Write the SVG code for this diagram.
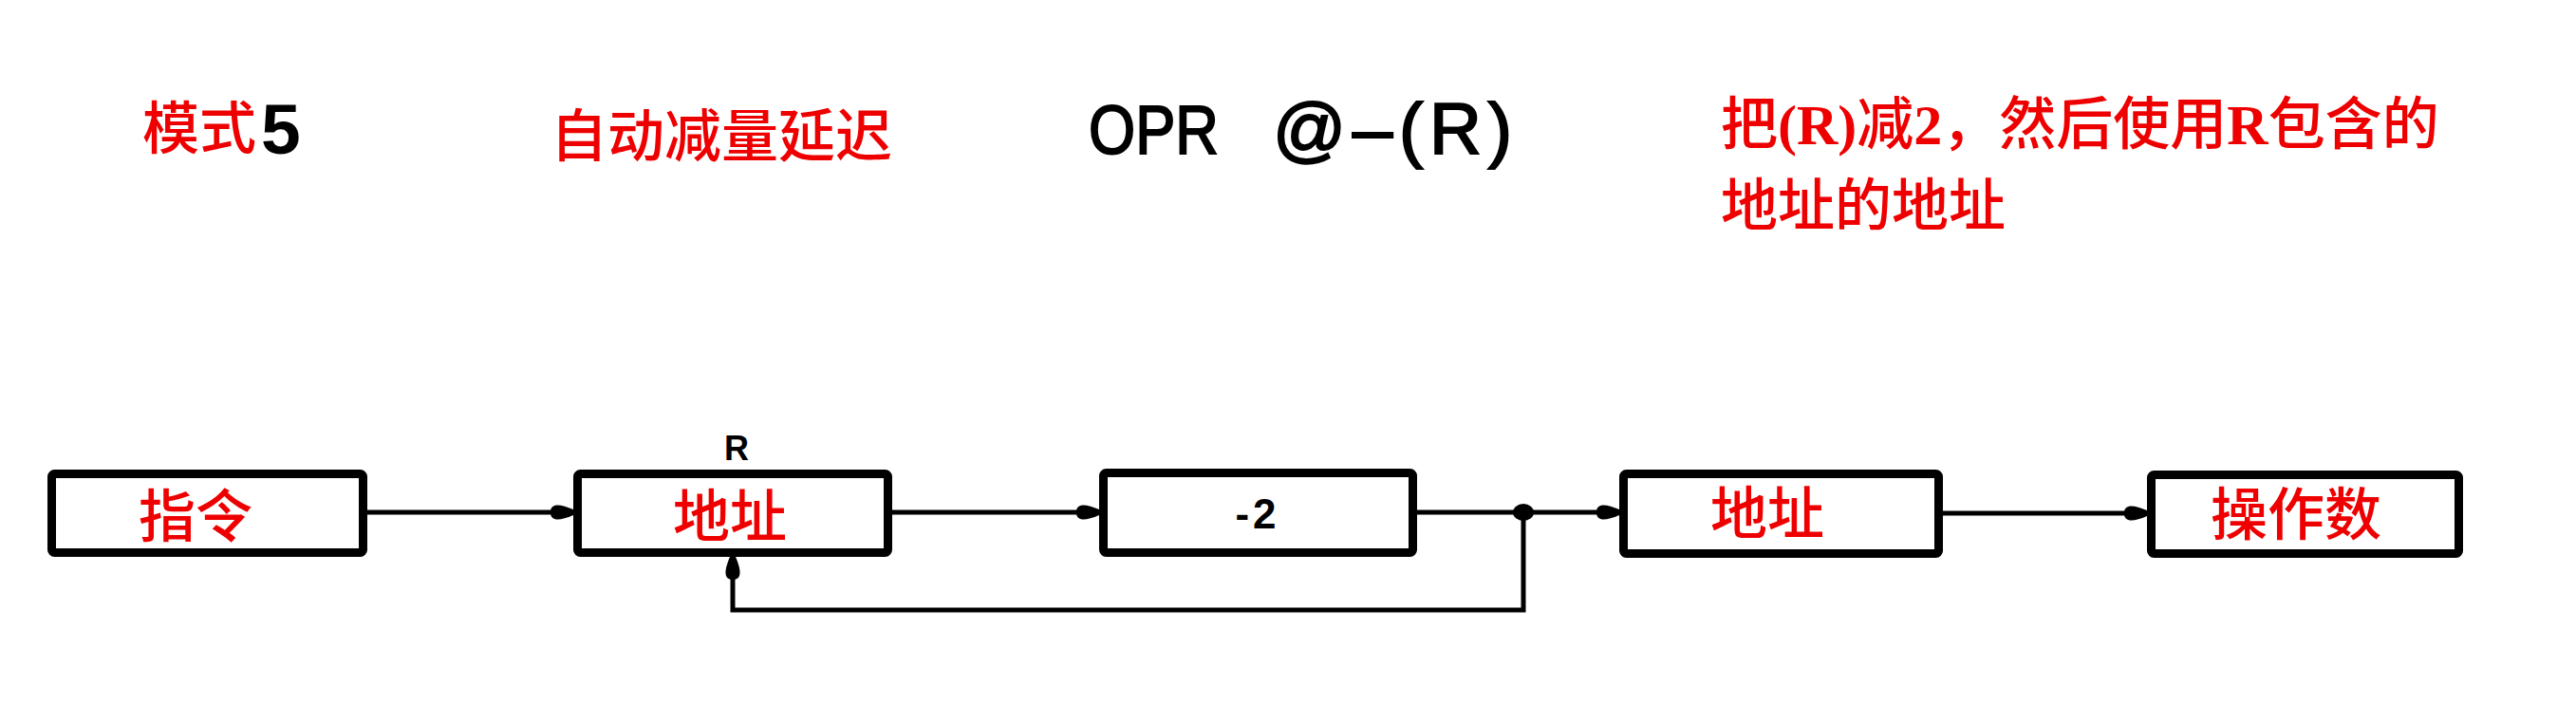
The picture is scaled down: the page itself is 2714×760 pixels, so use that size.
<svg xmlns="http://www.w3.org/2000/svg" width="2714" height="760" viewBox="0 0 2714 760">
  <style>
    .box { fill: #ffffff; stroke: #000000; stroke-width: 9; }
    .wire { fill: none; stroke: #000000; stroke-width: 5; stroke-linejoin: miter; }
    .red { fill: #ee0000; font-family: "Liberation Serif", "Noto Sans CJK SC", serif; font-size: 60px; font-weight: 500; }
    .lat { font-weight: bold; }
    .sans { fill: #000000; font-family: "Liberation Sans", "DejaVu Sans", sans-serif; }
    .med { stroke: #000000; stroke-width: 2; }
  </style>
  <defs>
    <marker id="arrow" markerUnits="userSpaceOnUse" markerWidth="30" markerHeight="26" viewBox="-26 -13 28 26" refX="0" refY="0" orient="auto">
      <path d="M-24,0 C-24,-10 -14,-9 0,-3 L0,3 C-14,9 -24,10 -24,0 Z" fill="#000000"/>
    </marker>
  </defs>
  <rect x="0" y="0" width="2714" height="760" fill="#ffffff"/>

  <g id="title">
    <text class="red" x="150" y="157">模式</text>
    <text class="sans" x="275" y="162" font-size="75" font-weight="bold">5</text>
    <text class="red" x="580" y="165" font-size="58">自动减量延迟</text>
    <text class="sans med" x="1147" y="162" font-size="72" textLength="137" lengthAdjust="spacingAndGlyphs">OPR</text>
    <text class="sans med" x="1341" y="162" font-size="76" textLength="252" lengthAdjust="spacing">@–(R)</text>
  </g>

  <g id="description">
    <text class="red" x="1813" y="152">把<tspan class="lat">(R)</tspan>减<tspan class="lat">2</tspan>，然后使用<tspan class="lat">R</tspan>包含的</text>
    <text class="red" x="1813" y="238">地址的地址</text>
  </g>

  <g id="connectors">
    <path class="wire" d="M387,540 L604,540" marker-end="url(#arrow)"/>
    <path class="wire" d="M940,540 L1158,540" marker-end="url(#arrow)"/>
    <path class="wire" d="M1493,540 L1706,540" marker-end="url(#arrow)"/>
    <path class="wire" d="M1605,540 L1605,643 L772,643 L772,587" marker-end="url(#arrow)"/>
    <path class="wire" d="M2047,541 L2262,541" marker-end="url(#arrow)"/>
    <ellipse cx="1605" cy="540" rx="11" ry="9" fill="#000000"/>
  </g>

  <g id="node-instruction">
    <rect class="box" x="54.5" y="499.5" width="328" height="83" rx="3"/>
    <text class="red" x="146" y="566">指令</text>
  </g>

  <g id="node-register-address">
    <text class="sans" x="776" y="485" font-size="36" font-weight="bold" text-anchor="middle">R</text>
    <rect class="box" x="608.5" y="499.5" width="327" height="83" rx="3"/>
    <text class="red" x="709" y="566">地址</text>
  </g>

  <g id="node-decrement">
    <rect class="box" x="1162.5" y="498.5" width="326" height="84" rx="3"/>
    <text class="sans" x="1325" y="557" font-size="44" font-weight="bold" text-anchor="middle" letter-spacing="4">-2</text>
  </g>

  <g id="node-address">
    <rect class="box" x="1710.5" y="499.5" width="332" height="84" rx="3"/>
    <text class="red" x="1802" y="563">地址</text>
  </g>

  <g id="node-operand">
    <rect class="box" x="2266.5" y="500.5" width="324" height="83" rx="3"/>
    <text class="red" x="2329" y="564">操作数</text>
  </g>
</svg>
